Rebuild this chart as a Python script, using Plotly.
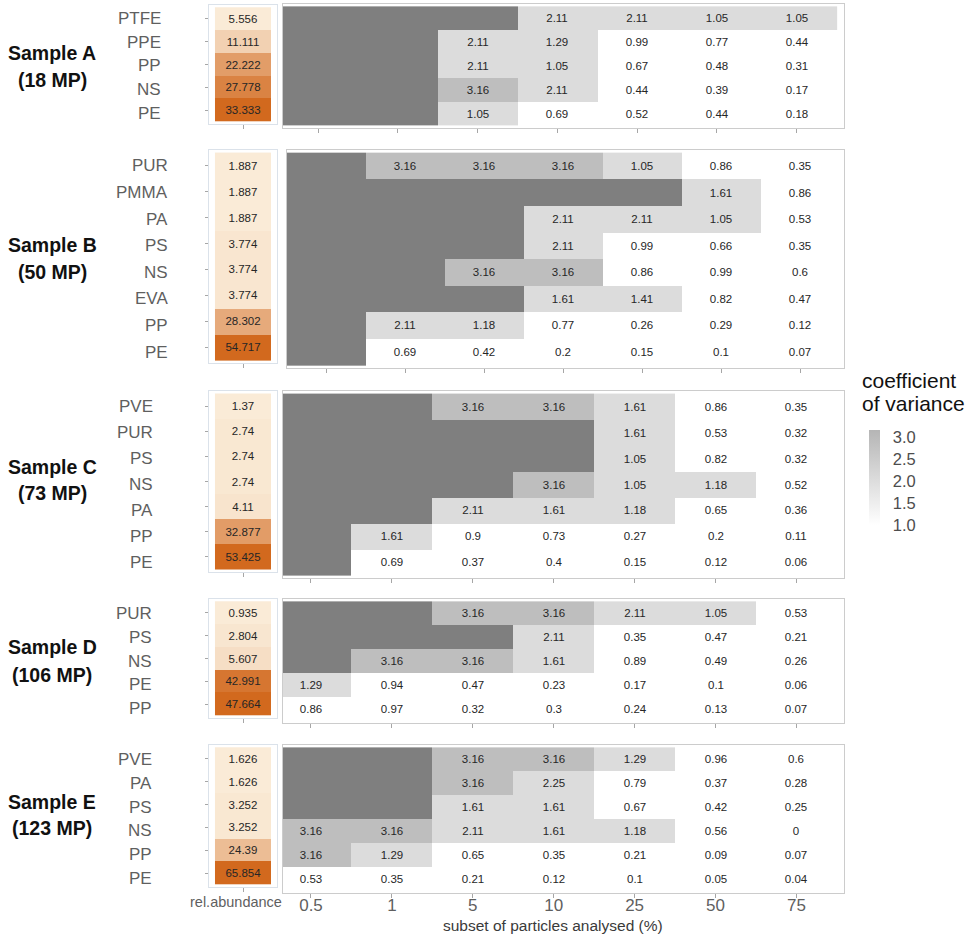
import numpy as np
import plotly.graph_objects as go

# ---------------------------------------------------------------- data
subsets = ["0.5", "1", "5", "10", "25", "50", "75"]
N = None

sample_names = ["Sample A", "Sample B", "Sample C", "Sample D", "Sample E"]
particle_counts = [18, 50, 73, 106, 123]

polymers_a = ["PTFE", "PPE", "PP", "NS", "PE"]
abundance_a = [5.556, 11.111, 22.222, 27.778, 33.333]
cv_a = [
    [N, N, N, 2.11, 2.11, 1.05, 1.05],
    [N, N, 2.11, 1.29, 0.99, 0.77, 0.44],
    [N, N, 2.11, 1.05, 0.67, 0.48, 0.31],
    [N, N, 3.16, 2.11, 0.44, 0.39, 0.17],
    [N, N, 1.05, 0.69, 0.52, 0.44, 0.18],
]

polymers_b = ["PUR", "PMMA", "PA", "PS", "NS", "EVA", "PP", "PE"]
abundance_b = [1.887, 1.887, 1.887, 3.774, 3.774, 3.774, 28.302, 54.717]
cv_b = [
    [N, 3.16, 3.16, 3.16, 1.05, 0.86, 0.35],
    [N, N, N, N, N, 1.61, 0.86],
    [N, N, N, 2.11, 2.11, 1.05, 0.53],
    [N, N, N, 2.11, 0.99, 0.66, 0.35],
    [N, N, 3.16, 3.16, 0.86, 0.99, 0.6],
    [N, N, N, 1.61, 1.41, 0.82, 0.47],
    [N, 2.11, 1.18, 0.77, 0.26, 0.29, 0.12],
    [N, 0.69, 0.42, 0.2, 0.15, 0.1, 0.07],
]

polymers_c = ["PVE", "PUR", "PS", "NS", "PA", "PP", "PE"]
abundance_c = [1.37, 2.74, 2.74, 2.74, 4.11, 32.877, 53.425]
cv_c = [
    [N, N, 3.16, 3.16, 1.61, 0.86, 0.35],
    [N, N, N, N, 1.61, 0.53, 0.32],
    [N, N, N, N, 1.05, 0.82, 0.32],
    [N, N, N, 3.16, 1.05, 1.18, 0.52],
    [N, N, 2.11, 1.61, 1.18, 0.65, 0.36],
    [N, 1.61, 0.9, 0.73, 0.27, 0.2, 0.11],
    [N, 0.69, 0.37, 0.4, 0.15, 0.12, 0.06],
]

polymers_d = ["PUR", "PS", "NS", "PE", "PP"]
abundance_d = [0.935, 2.804, 5.607, 42.991, 47.664]
cv_d = [
    [N, N, 3.16, 3.16, 2.11, 1.05, 0.53],
    [N, N, N, 2.11, 0.35, 0.47, 0.21],
    [N, 3.16, 3.16, 1.61, 0.89, 0.49, 0.26],
    [1.29, 0.94, 0.47, 0.23, 0.17, 0.1, 0.06],
    [0.86, 0.97, 0.32, 0.3, 0.24, 0.13, 0.07],
]

polymers_e = ["PVE", "PA", "PS", "NS", "PP", "PE"]
abundance_e = [1.626, 1.626, 3.252, 3.252, 24.39, 65.854]
cv_e = [
    [N, N, 3.16, 3.16, 1.29, 0.96, 0.6],
    [N, N, 3.16, 2.25, 0.79, 0.37, 0.28],
    [N, N, 1.61, 1.61, 0.67, 0.42, 0.25],
    [3.16, 3.16, 2.11, 1.61, 1.18, 0.56, 0],
    [3.16, 1.29, 0.65, 0.35, 0.21, 0.09, 0.07],
    [0.53, 0.35, 0.21, 0.12, 0.1, 0.05, 0.04],
]

polymers = [polymers_a, polymers_b, polymers_c, polymers_d, polymers_e]
abundances = [abundance_a, abundance_b, abundance_c, abundance_d, abundance_e]
cvs = [cv_a, cv_b, cv_c, cv_d, cv_e]

# ---------------------------------------------------------------- layout geometry (pixels)
W, H = 973, 936
FONT = "Liberation Sans, Arial, sans-serif"

# main panel boxes: (left, right, top, bottom) and x range in column units
main_box = [(283, 844, 4, 128), (287, 844, 150, 368), (283, 844, 391, 578),
            (283, 844, 599, 723), (283, 844, 745, 893)]
main_xrange = [[-0.439, 6.592], [-0.494, 6.557], [-0.346, 6.588],
               [-0.346, 6.588], [-0.346, 6.588]]
rel_box = [(209, 277, 5, 124), (209, 277, 150, 363), (209, 277, 391, 572),
           (209, 277, 599, 718), (209, 277, 745, 887)]
label_right = [163, 170, 155, 154, 154]
sample_line_y = [(53, 80), (245, 272), (467, 493), (647, 675), (802, 828)]


def px_x(x):
    return x / W


def px_y(y):
    return 1 - y / H


# CV classes: missing (dark), <1 (white), 1-3 (light grey), >=3 (grey)
NA_CODE = -1.0
cv_colorscale = [
    [0.0, "#7f7f7f"], [0.1, "#7f7f7f"],
    [0.1, "#ffffff"], [0.4, "#ffffff"],
    [0.4, "#dcdcdc"], [0.8, "#dcdcdc"],
    [0.8, "#bebebe"], [1.0, "#bebebe"],
]
abund_colorscale = [[0.0, "#FAEBD7"], [1.0, "#D2691E"]]

fig = go.Figure()
layout = dict(
    width=W, height=H, margin=dict(l=0, r=0, t=0, b=0),
    paper_bgcolor="white", plot_bgcolor="white", showlegend=False,
    font=dict(family=FONT),
)
annotations = []

for k in range(5):
    n = len(polymers[k])
    rows = list(range(n))
    rel_id = 2 * k + 1
    main_id = 2 * k + 2
    rx = "x" if rel_id == 1 else f"x{rel_id}"
    ry = "y" if rel_id == 1 else f"y{rel_id}"
    mx, my = f"x{main_id}", f"y{main_id}"

    # relative abundance column
    ab = np.array(abundances[k], dtype=float)
    fig.add_trace(go.Heatmap(
        x=[0], y=rows, z=ab.reshape(-1, 1),
        text=[[f"{v:g}"] for v in ab], texttemplate="%{text}",
        textfont=dict(size=11.5, color="#262626", family=FONT),
        colorscale=abund_colorscale, zmin=ab.min(), zmax=ab.max(),
        showscale=False, hoverinfo="skip", xaxis=rx, yaxis=ry,
    ))

    # coefficient of variance grid
    cv = np.array(cvs[k], dtype=float)
    z = np.where(np.isnan(cv), NA_CODE, cv)
    txt = [["" if np.isnan(v) else f"{v:g}" for v in row] for row in cv]
    fig.add_trace(go.Heatmap(
        x=list(range(len(subsets))), y=rows, z=z,
        text=txt, texttemplate="%{text}",
        textfont=dict(size=11.5, color="#262626", family=FONT),
        colorscale=cv_colorscale, zmin=-1, zmax=4,
        showscale=False, hoverinfo="skip", xaxis=mx, yaxis=my,
    ))

    l, r, t, b = rel_box[k]
    layout[f"xaxis{'' if rel_id == 1 else rel_id}"] = dict(
        domain=[px_x(l), px_x(r)], range=[-0.607, 0.607], anchor=ry,
        tickvals=[0], showticklabels=False, ticks="outside", ticklen=4,
        tickcolor="#a6a6a6", showline=True, mirror=True, linecolor="#dbe2ea",
        showgrid=False, zeroline=False, fixedrange=True,
    )
    layout[f"yaxis{'' if rel_id == 1 else rel_id}"] = dict(
        domain=[px_y(b), px_y(t)], range=[n - 0.4, -0.6], anchor=rx,
        tickvals=rows, showticklabels=False, ticks="outside", ticklen=3,
        tickcolor="#a6a6a6", showline=True, mirror=True, linecolor="#dbe2ea",
        showgrid=False, zeroline=False, fixedrange=True,
    )

    l, r, t, b = main_box[k]
    last = k == 4
    layout[f"xaxis{main_id}"] = dict(
        domain=[px_x(l), px_x(r)], range=main_xrange[k], anchor=my,
        tickvals=list(range(len(subsets))), ticktext=subsets,
        showticklabels=last, tickfont=dict(size=17, color="#5f5f5f"),
        ticklabelstandoff=-7,
        ticks="outside", ticklen=4, tickcolor="#a6a6a6",
        showline=True, mirror=True, linecolor="#cccccc",
        showgrid=False, zeroline=False, fixedrange=True,
    )
    layout[f"yaxis{main_id}"] = dict(
        domain=[px_y(b), px_y(t)], range=[n - 0.4, -0.6], anchor=mx,
        showticklabels=False, ticks="", showline=True, mirror=True,
        linecolor="#cccccc", showgrid=False, zeroline=False, fixedrange=True,
    )

    # polymer names
    for i, name in enumerate(polymers[k]):
        annotations.append(dict(
            x=px_x(label_right[k]), xref="paper", y=i, yref=my,
            text=name, showarrow=False, xanchor="right", yanchor="middle",
            font=dict(size=17, color="#5f5f5f", family=FONT),
        ))

    # sample header
    y1, y2 = sample_line_y[k]
    for yy, line in ((y1, sample_names[k]), (y2, f"({particle_counts[k]} MP)")):
        annotations.append(dict(
            x=px_x(52), xref="paper", y=px_y(yy), yref="paper",
            text=f"<b>{line}</b>", showarrow=False, xanchor="center",
            yanchor="middle", font=dict(size=19.5, color="#111111", family=FONT),
        ))

# axis captions
annotations.append(dict(
    x=px_x(236), xref="paper", y=px_y(902), yref="paper", text="rel.abundance",
    showarrow=False, xanchor="center", yanchor="middle",
    font=dict(size=14.5, color="#5f5f5f", family=FONT),
))
annotations.append(dict(
    x=px_x(553), xref="paper", y=px_y(925), yref="paper",
    text="subset of particles analysed (%)", showarrow=False,
    xanchor="center", yanchor="middle",
    font=dict(size=15.5, color="#3a3a3a", family=FONT),
))

# colour legend
for yy, line in ((380, "coefficient"), (403, "of variance")):
    annotations.append(dict(
        x=px_x(860), xref="paper", y=px_y(yy), yref="paper", text=line,
        showarrow=False, xanchor="left", yanchor="middle",
        font=dict(size=21, color="#111111", family=FONT),
    ))

all_cv = np.array([v for c in cvs for row in c for v in row if v is not None], dtype=float)
cv_lo, cv_hi = 1.0, float(all_cv.max())
bar_px_per_unit = 44.0
bar_len = (cv_hi - cv_lo) * bar_px_per_unit
fig.add_trace(go.Scatter(
    x=[None], y=[None], mode="markers", xaxis="x2", yaxis="y2",
    hoverinfo="skip", showlegend=False,
    marker=dict(
        color=[cv_lo, cv_hi], cmin=cv_lo, cmax=cv_hi,
        colorscale=[[0, "#ffffff"], [1, "#b5b5b5"]], showscale=True,
        colorbar=dict(
            x=px_x(869), xanchor="left", y=px_y(525), yanchor="bottom",
            len=bar_len, lenmode="pixels", thickness=11, thicknessmode="pixels",
            xpad=0, ypad=0, outlinewidth=0,
            tickvals=[1.0, 1.5, 2.0, 2.5, 3.0],
            ticktext=["1.0", "1.5", "2.0", "2.5", "3.0"],
            ticks="outside", ticklen=10, tickcolor="rgba(0,0,0,0)",
            tickfont=dict(size=16.5, color="#4d4d4d", family=FONT),
        ),
    ),
))

layout["annotations"] = annotations
fig.update_layout(**layout)
fig.write_html("out.html")
